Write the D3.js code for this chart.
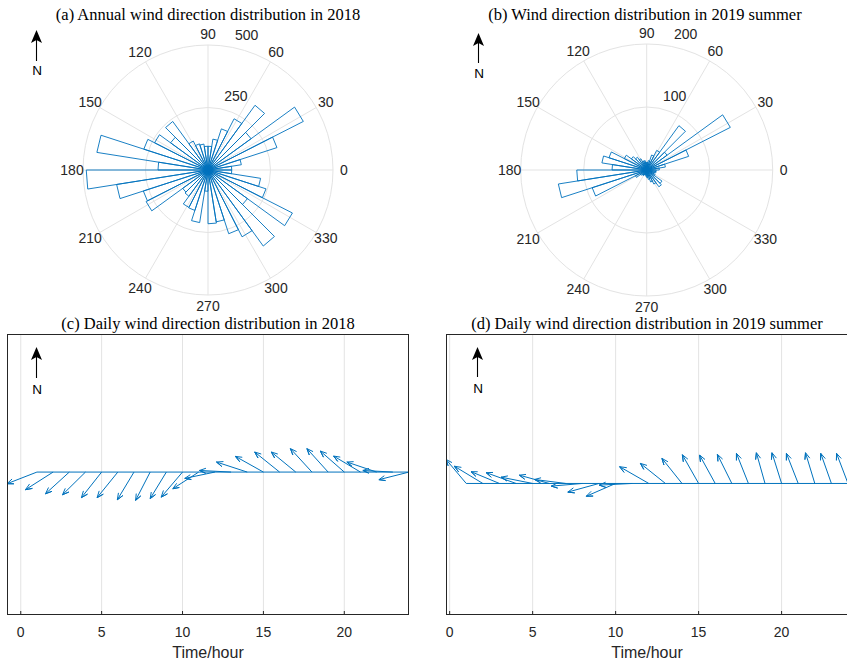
<!DOCTYPE html>
<html>
<head>
<meta charset="utf-8">
<script src="https://cdn.jsdelivr.net/npm/d3@7/dist/d3.min.js"></script>
<style>
  body { margin: 0; background: #fff; }
  svg { display: block; }
</style>
</head>
<body>
<svg id="chart" width="847" height="664"></svg>
<script>
// ---- data ----
// polar histograms: 40 bins of 9 degrees, starting at 0 (east), counter-clockwise
const binWidth = 9;
const countsA = [95, 135, 290, 428, 213, 320, 230, 173, 125, 95,
                 95, 105, 110, 130, 240, 185, 240, 270, 450, 200,
                 487, 370, 272, 278, 125, 130, 168, 170, 213, 85,
                 215, 210, 268, 300, 376, 195, 379, 244, 213, 95];
const countsB = [20, 30, 70, 149, 40, 87, 35, 25, 15, 12,
                 12, 15, 15, 20, 25, 30, 40, 63, 72, 55,
                 111, 142, 91, 20, 12, 10, 10, 8, 8, 10,
                 12, 15, 20, 25, 33, 30, 15, 12, 15, 15];
const thetaTicks = [0, 30, 60, 90, 120, 150, 180, 210, 240, 270, 300, 330];
const rTicksA = [250, 500];
const rTicksB = [100, 200];

// feather plots: hourly direction vectors (u east, v north)
const hours = d3.range(1, 25);
const uC = [-1.85, -1.71, -1.47, -1.42, -1.25, -1.28, -1.03, -0.90, -1.00, -1.32, -1.60, -1.86,
            -1.95, -1.90, -1.73, -1.54, -1.51, -1.33, -1.31, -1.48, -1.66, -1.84, -1.85, -1.86];
const vC = [-0.72, -1.09, -1.34, -1.40, -1.58, -1.58, -1.71, -1.75, -1.64, -1.55, -1.03, -0.39,
             0.10,  0.62,  0.97,  1.24,  1.24,  1.45,  1.45,  1.30,  0.99,  0.62,  0.10, -0.47];
const uD = [-1.22, -1.72, -1.71, -1.80, -1.90, -1.80, -1.89, -1.88, -1.88, -1.77, -1.99, -1.76,
            -1.51, -1.21, -0.98, -0.94, -0.87, -0.72, -0.52, -0.58, -0.71, -0.56, -0.64, -0.69];
const vD = [ 1.45,  1.04,  0.71,  0.65,  0.38,  0.50,  0.24, -0.16, -0.52, -0.77, -0.10,  1.01,
             1.21,  1.51,  1.73,  1.71,  1.75,  1.81,  1.85,  1.85,  1.81,  1.85,  1.81,  1.81];
const xTicks = [0, 5, 10, 15, 20];

// ---- style ----
const blue = '#0072BD';
const gridColor = '#e3e3e3';
const axisColor = '#262626';
const sans = '"Liberation Sans", Arial, sans-serif';
const serif = '"Liberation Serif", "Times New Roman", serif';

const svg = d3.select('#chart');

function northArrow(x, top, bottom, textY) {
  const g = svg.append('g');
  g.append('line')
    .attr('x1', x).attr('x2', x)
    .attr('y1', top + 8).attr('y2', bottom)
    .attr('stroke', '#000').attr('stroke-width', 1.1);
  g.append('path')
    .attr('d', `M${x},${top}L${x + 5.5},${top + 13}L${x},${top + 10}L${x - 5.5},${top + 13}Z`)
    .attr('fill', '#000');
  g.append('text')
    .attr('x', x + 0.5).attr('y', textY)
    .attr('text-anchor', 'middle')
    .attr('font-family', sans).attr('font-size', 13.5)
    .attr('fill', '#000')
    .text('N');
}

function title(x, y, txt) {
  svg.append('text')
    .attr('x', x).attr('y', y)
    .attr('text-anchor', 'middle')
    .attr('font-family', serif).attr('font-size', 16.5)
    .attr('fill', '#000')
    .text(txt);
}

function rose(cx, cy, R, counts, rTicks) {
  const g = svg.append('g').attr('transform', `translate(${cx},${cy})`);
  const r = d3.scaleLinear().domain([0, d3.max(rTicks)]).range([0, R]);
  const pt = (deg, rr) => {
    const a = deg * Math.PI / 180;
    return [rr * Math.cos(a), -rr * Math.sin(a)];
  };

  g.selectAll('circle.ring').data(rTicks).join('circle')
    .attr('class', 'ring')
    .attr('r', d => r(d))
    .attr('fill', 'none')
    .attr('stroke', gridColor).attr('stroke-width', 1);

  g.selectAll('line.spoke').data(thetaTicks).join('line')
    .attr('class', 'spoke')
    .attr('x1', 0).attr('y1', 0)
    .attr('x2', d => pt(d, R)[0])
    .attr('y2', d => pt(d, R)[1])
    .attr('stroke', gridColor).attr('stroke-width', 1);

  g.selectAll('path.bar').data(counts).join('path')
    .attr('class', 'bar')
    .attr('d', (c, k) => {
      const p0 = pt(k * binWidth, r(c));
      const p1 = pt((k + 1) * binWidth, r(c));
      return `M0,0L${p0[0]},${p0[1]}L${p1[0]},${p1[1]}Z`;
    })
    .attr('fill', 'none')
    .attr('stroke', blue).attr('stroke-width', 0.9)
    .attr('stroke-linejoin', 'miter');

  g.selectAll('text.theta').data(thetaTicks).join('text')
    .attr('class', 'theta')
    .attr('x', d => pt(d, R + 11)[0])
    .attr('y', d => pt(d, R + 11)[1])
    .attr('text-anchor', 'middle')
    .attr('dominant-baseline', 'central')
    .attr('font-family', sans).attr('font-size', 14)
    .attr('fill', axisColor)
    .text(d => d);

  g.selectAll('text.rtick').data(rTicks).join('text')
    .attr('class', 'rtick')
    .attr('x', d => pt(80, r(d))[0] + 17)
    .attr('y', d => pt(80, r(d))[1] - 12)
    .attr('text-anchor', 'middle')
    .attr('dominant-baseline', 'central')
    .attr('font-family', sans).attr('font-size', 14)
    .attr('fill', axisColor)
    .text(d => d);
}

function feather(left, right, top, bottom, u, v) {
  const g = svg.append('g');
  const tips = hours.map((h, i) => [h + u[i], v[i]]);
  const xMin = d3.min(hours.map((h, i) => Math.min(h, tips[i][0])));
  const xMax = d3.max(hours.map((h, i) => Math.max(h, tips[i][0])));
  const x = d3.scaleLinear().domain([xMin, xMax]).range([left, right]);
  const unit = (right - left) / (xMax - xMin);          // axis equal
  const vMid = (d3.min(v) + d3.max(v)) / 2;
  const half = (bottom - top) / unit / 2;
  const y = d3.scaleLinear().domain([vMid - half, vMid + half]).range([bottom, top]);

  const clipId = 'clip' + left;
  svg.append('clipPath').attr('id', clipId)
    .append('rect').attr('x', left).attr('y', top)
    .attr('width', right - left).attr('height', bottom - top);

  g.selectAll('line.grid').data(xTicks).join('line')
    .attr('class', 'grid')
    .attr('x1', d => x(d)).attr('x2', d => x(d))
    .attr('y1', top).attr('y2', bottom)
    .attr('stroke', gridColor).attr('stroke-width', 1);

  const data = g.append('g').attr('clip-path', `url(#${clipId})`);
  // zero line
  data.append('path')
    .attr('d', d3.line()([[x(hours[0]), y(0)], [x(hours[hours.length - 1]), y(0)]]))
    .attr('stroke', blue).attr('stroke-width', 1).attr('fill', 'none');

  // arrows: shaft + two barbs (head 0.2 of length, half-width 0.08)
  const arrowPath = (h, i) => {
    const du = u[i], dv = v[i];
    const pts = [[0, 0], [1, 0], [0.8, 0.08], [1, 0], [0.8, -0.08]]
      .map(([a, b]) => [x(h + a * du - b * dv), y(a * dv + b * du)]);
    return d3.line()(pts);
  };
  data.selectAll('path.arrow').data(hours).join('path')
    .attr('class', 'arrow')
    .attr('d', arrowPath)
    .attr('stroke', blue).attr('stroke-width', 1).attr('fill', 'none');

  // box and ticks
  g.append('rect')
    .attr('x', left + 0.5).attr('y', top + 0.5)
    .attr('width', right - left - 1).attr('height', bottom - top - 1)
    .attr('fill', 'none').attr('stroke', axisColor).attr('stroke-width', 1);
  g.selectAll('line.tick').data(xTicks).join('line')
    .attr('class', 'tick')
    .attr('x1', d => x(d)).attr('x2', d => x(d))
    .attr('y1', bottom).attr('y2', bottom - 4)
    .attr('stroke', axisColor).attr('stroke-width', 1);
  g.selectAll('text.xt').data(xTicks).join('text')
    .attr('class', 'xt')
    .attr('x', d => x(d)).attr('y', bottom + 22)
    .attr('text-anchor', 'middle')
    .attr('font-family', sans).attr('font-size', 14)
    .attr('fill', axisColor)
    .text(d => d);
  g.append('text')
    .attr('x', (left + right) / 2).attr('y', bottom + 43)
    .attr('text-anchor', 'middle')
    .attr('font-family', sans).attr('font-size', 16)
    .attr('fill', axisColor)
    .text('Time/hour');
}

// ---- panels ----
rose(208, 170, 125, countsA, rTicksA);
rose(646.7, 170, 126, countsB, rTicksB);
feather(7, 409, 334, 615, uC, vC);
feather(446, 848, 334, 615, uD, vD);

title(208, 329, '(c) Daily wind direction distribution in 2018');
title(647, 329, '(d) Daily wind direction distribution in 2019 summer');
title(208, 20, '(a) Annual wind direction distribution in 2018');
title(645, 20, '(b) Wind direction distribution in 2019 summer');

northArrow(36.5, 30, 61, 75);
northArrow(478.5, 33, 63, 78);
northArrow(36.5, 347, 378, 394);
northArrow(477.5, 347, 377, 393);
</script>
</body>
</html>
